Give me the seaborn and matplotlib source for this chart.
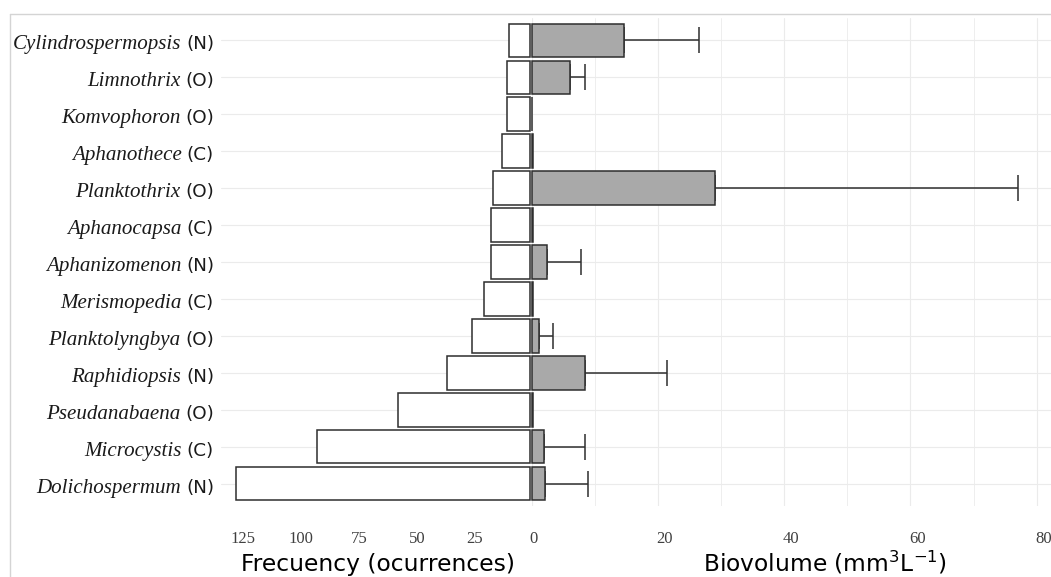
import matplotlib
matplotlib.use("Agg")
import matplotlib.pyplot as plt
import seaborn as sns
import numpy as np
import pandas as pd
from matplotlib.lines import Line2D
from matplotlib.ticker import FixedLocator
from matplotlib.transforms import ScaledTranslation

# --- data -------------------------------------------------------------
genera = ["Cylindrospermopsis", "Limnothrix", "Komvophoron", "Aphanothece",
          "Planktothrix", "Aphanocapsa", "Aphanizomenon", "Merismopedia",
          "Planktolyngbya", "Raphidiopsis", "Pseudanabaena", "Microcystis",
          "Dolichospermum"]
groups = ["N", "O", "O", "C", "O", "C", "N", "C", "O", "N", "O", "C", "N"]
frequency = [9, 10, 10, 12, 16, 17, 17, 20, 25, 36, 57, 92, 127]
biovolume_mean = [14.7, 6.1, 0.1, 0.3, 29.0, 0.15, 2.4, 0.15, 1.1, 8.4, 0.15, 1.9, 2.1]
biovolume_sd = [11.8, 2.4, 0.0, 0.0, 48.1, 0.0, 5.4, 0.0, 2.3, 13.0, 0.0, 6.5, 6.8]
freq_ticks = [125, 100, 75, 50, 25, 0]
bio_ticks = [0, 20, 40, 60, 80]
bio_tick_labels = ["", "20", "40", "60", "80"]

df = pd.DataFrame({"genus": genera, "group": groups, "frequency": frequency,
                   "biovolume": biovolume_mean, "sd": biovolume_sd})

# --- style ------------------------------------------------------------
sns.set_style("white")
plt.rcParams["font.family"] = ["DejaVu Sans"]
EDGE = "#2e2e2e"
GREY = "#a9a9a9"
GRID = "#ebebeb"
TICKCOL = "#404040"

W, H = 1051, 577
fig = plt.figure(figsize=(W / 100, H / 100), dpi=100)
top_px, bot_px = 18, 506
bottom = 1 - bot_px / H
height = (bot_px - top_px) / H
axL = fig.add_axes([221 / W, bottom, 309 / W, height])
axR = fig.add_axes([531.6 / W, bottom, (W - 531.6) / W, height])

# --- left: frequency of occurrence -------------------------------------
sns.barplot(data=df, x="frequency", y="genus", ax=axL, color="white",
            edgecolor=EDGE, linewidth=1.1, width=0.9, saturation=1, zorder=3)
for p in axL.patches:
    p.set_clip_on(False)

# --- right: mean biovolume with upper SD --------------------------------
sns.barplot(data=df, x="biovolume", y="genus", ax=axR, color=GREY,
            edgecolor=EDGE, linewidth=1.1, width=0.9, saturation=1,
            errorbar=None, zorder=3)
for p in axR.patches:
    p.set_clip_on(False)

pos = np.arange(len(genera))
has_sd = df["sd"].to_numpy() > 0
axR.errorbar(df["biovolume"].to_numpy()[has_sd], pos[has_sd],
             xerr=[np.zeros(has_sd.sum()), df["sd"].to_numpy()[has_sd]],
             fmt="none", ecolor=EDGE, elinewidth=1.1, capsize=9.7,
             capthick=1.1, zorder=2)

n = len(genera)
for ax in (axL, axR):
    ax.set_ylim(n - 1 + 0.6, -0.6)
    for s in ax.spines.values():
        s.set_visible(False)
    ax.set_axisbelow(True)
    ax.set_ylabel("")
    ax.tick_params(axis="y", length=0, labelleft=False)
    ax.tick_params(axis="x", length=0, pad=18.0, labelsize=12,
                   labelcolor=TICKCOL, labelfontfamily="Liberation Serif")
    ax.grid(axis="y", color=GRID, lw=0.8, zorder=0)

axL.set_xlim(133.3, 0)
axL.set_xticks(freq_ticks)
axL.set_xticklabels([str(t) for t in freq_ticks])
axL.grid(axis="x", visible=False)

axR.set_xlim(0, (W - 531.6) / 6.313)
axR.set_xticks(bio_ticks)
axR.set_xticklabels(bio_tick_labels)
axR.xaxis.set_minor_locator(FixedLocator([10, 30, 50, 70]))
axR.tick_params(axis="x", which="minor", length=0)
axR.grid(axis="x", which="major", color=GRID, lw=0.8, zorder=0)
axR.grid(axis="x", which="minor", color=GRID, lw=0.6, zorder=0)

# small horizontal nudge of the tick numbers
for lab in axL.get_xticklabels():
    lab.set_transform(lab.get_transform() + ScaledTranslation(3 / 100, 0, fig.dpi_scale_trans))
for lab in axR.get_xticklabels():
    lab.set_transform(lab.get_transform() + ScaledTranslation(7 / 100, 0, fig.dpi_scale_trans))

# axis titles, anchored by their bottom edge just above the figure edge
ylab = (bot_px - 576) / (bot_px - top_px)
axL.set_xlabel("Frecuency (ocurrences)", fontsize=16.8, color="black")
axL.xaxis.label.set_va("bottom")
axL.xaxis.set_label_coords((378 - 221) / 309, ylab)
axR.set_xlabel(r"Biovolume (mm$^{3}$L$^{-1}$)", fontsize=16.8, color="black")
axR.xaxis.label.set_va("bottom")
axR.xaxis.set_label_coords((825 - 531.6) / (W - 531.6), ylab)

# genus labels: italic serif name followed by the functional group
ytr = axL.get_yaxis_transform()
for i, (g, grp) in enumerate(zip(genera, groups)):
    paren = axL.annotate(f"({grp})", xy=(0, i), xycoords=ytr,
                         xytext=(-5, -6.3), textcoords="offset points",
                         ha="right", va="baseline", fontsize=13.2,
                         color="#1a1a1a", annotation_clip=False)
    axL.annotate(g, xy=(0, i), xycoords=(paren, ytr),
                 xytext=(-3.5, -6.3), textcoords="offset points",
                 ha="right", va="baseline", fontsize=15.1,
                 family="Liberation Serif", fontstyle="italic",
                 color="#1a1a1a", annotation_clip=False)

# light frame along the top and left of the figure
fy = 1 - 13.7 / H
fx = 10 / W
fig.add_artist(Line2D([fx, 1], [fy, fy], transform=fig.transFigure,
                      color="#d4d4d4", lw=1))
fig.add_artist(Line2D([fx, fx], [0, fy], transform=fig.transFigure,
                      color="#d4d4d4", lw=1))

fig.savefig("out.png", dpi=100)
